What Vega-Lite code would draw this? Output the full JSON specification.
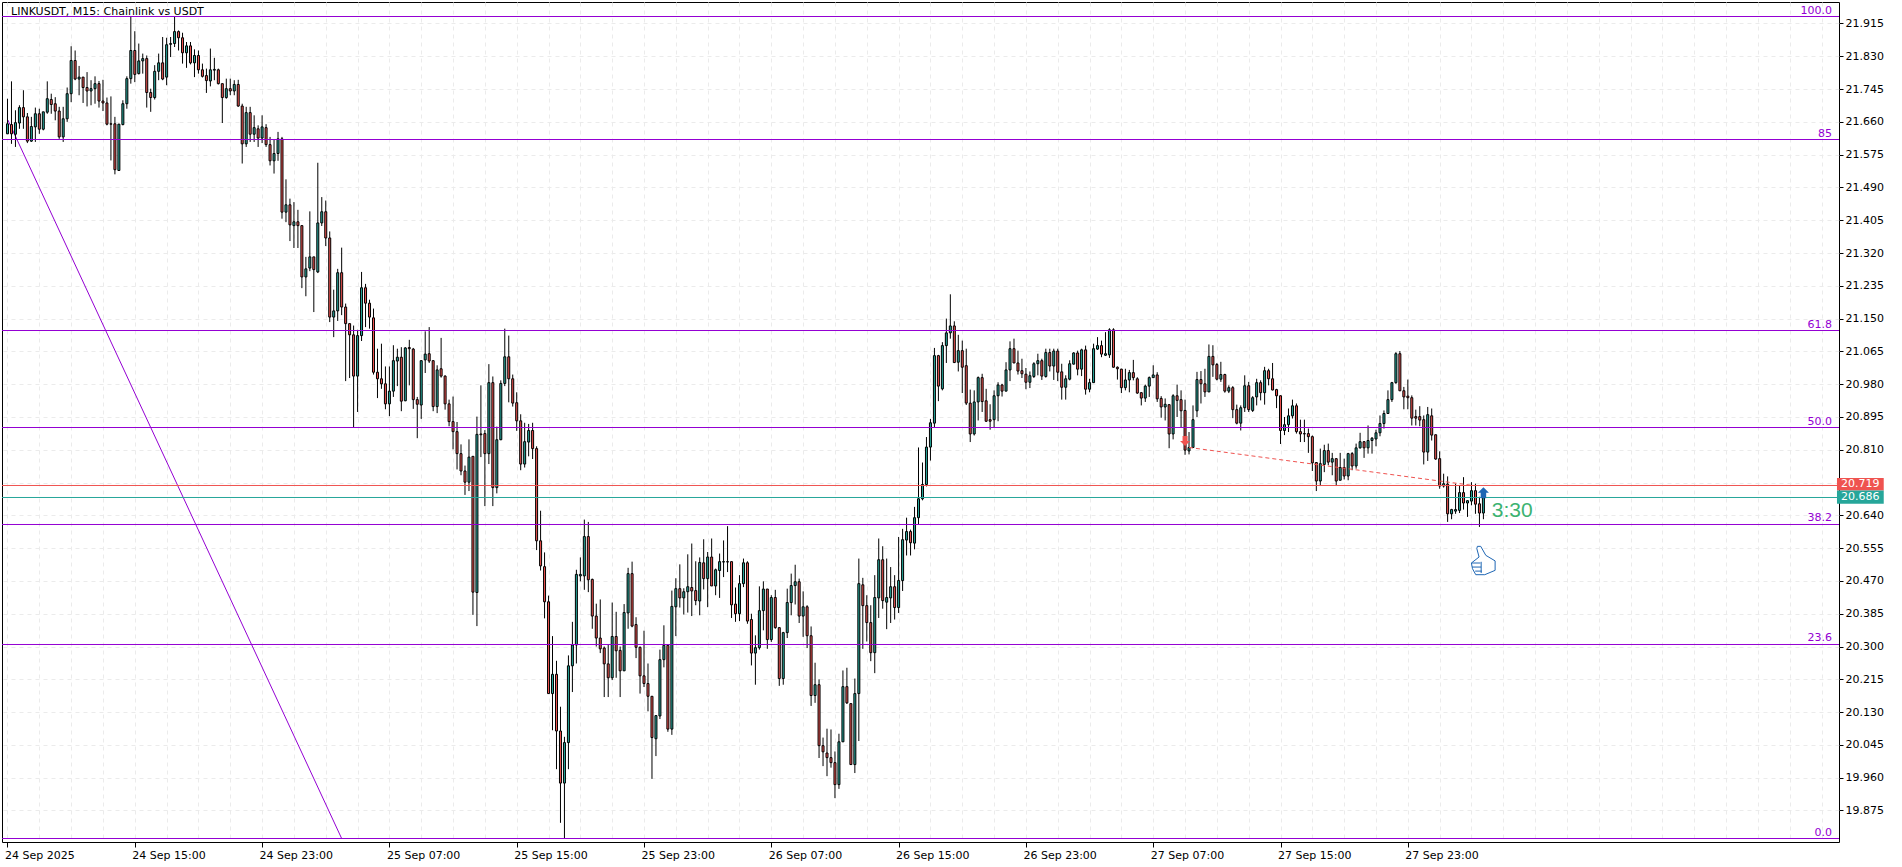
{"$schema":"https://vega.github.io/schema/vega-lite/v6.json","width":1837,"height":840,"autosize":{"type":"none"},"padding":{"left":2,"top":2,"right":63,"bottom":25},"background":"white","config":{"view":{"stroke":"#000","strokeWidth":1},"font":"DejaVu Sans","axis":{"labelOverlap":false}},
"datasets":{
"candles":[
{"k":0,"o":21.629,"h":21.72,"l":21.629,"c":21.655},{"k":1,"o":21.653,"h":21.765,"l":21.603,"c":21.629},{"k":2,"o":21.628,"h":21.69,"l":21.595,"c":21.658},{"k":3,"o":21.657,"h":21.703,"l":21.642,"c":21.697},{"k":4,"o":21.697,"h":21.742,"l":21.642,"c":21.673},{"k":5,"o":21.673,"h":21.683,"l":21.605,"c":21.61},{"k":6,"o":21.61,"h":21.673,"l":21.608,"c":21.648},{"k":7,"o":21.647,"h":21.697,"l":21.608,"c":21.681},{"k":8,"o":21.681,"h":21.694,"l":21.629,"c":21.641},{"k":9,"o":21.641,"h":21.686,"l":21.638,"c":21.686},
{"k":10,"o":21.685,"h":21.765,"l":21.681,"c":21.72},{"k":11,"o":21.718,"h":21.733,"l":21.681,"c":21.705},{"k":12,"o":21.707,"h":21.724,"l":21.664,"c":21.688},{"k":13,"o":21.688,"h":21.699,"l":21.616,"c":21.621},{"k":14,"o":21.621,"h":21.699,"l":21.608,"c":21.668},{"k":15,"o":21.668,"h":21.749,"l":21.66,"c":21.733},{"k":16,"o":21.733,"h":21.856,"l":21.711,"c":21.819},{"k":17,"o":21.819,"h":21.845,"l":21.768,"c":21.771},{"k":18,"o":21.771,"h":21.805,"l":21.729,"c":21.776},{"k":19,"o":21.776,"h":21.776,"l":21.709,"c":21.749},
{"k":20,"o":21.749,"h":21.789,"l":21.7,"c":21.74},{"k":21,"o":21.74,"h":21.768,"l":21.703,"c":21.746},{"k":22,"o":21.746,"h":21.778,"l":21.707,"c":21.759},{"k":23,"o":21.759,"h":21.766,"l":21.697,"c":21.714},{"k":24,"o":21.714,"h":21.769,"l":21.688,"c":21.709},{"k":25,"o":21.709,"h":21.723,"l":21.651,"c":21.654},{"k":26,"o":21.655,"h":21.726,"l":21.56,"c":21.654},{"k":27,"o":21.655,"h":21.673,"l":21.524,"c":21.536},{"k":28,"o":21.534,"h":21.655,"l":21.533,"c":21.654},{"k":29,"o":21.653,"h":21.716,"l":21.651,"c":21.707},
{"k":30,"o":21.707,"h":21.778,"l":21.694,"c":21.772},{"k":31,"o":21.772,"h":21.932,"l":21.759,"c":21.845},{"k":32,"o":21.845,"h":21.895,"l":21.763,"c":21.783},{"k":33,"o":21.785,"h":21.863,"l":21.783,"c":21.818},{"k":34,"o":21.818,"h":21.837,"l":21.785,"c":21.824},{"k":35,"o":21.824,"h":21.832,"l":21.697,"c":21.736},{"k":36,"o":21.736,"h":21.746,"l":21.686,"c":21.723},{"k":37,"o":21.723,"h":21.807,"l":21.718,"c":21.791},{"k":38,"o":21.791,"h":21.837,"l":21.768,"c":21.813},{"k":39,"o":21.813,"h":21.88,"l":21.768,"c":21.771},
{"k":40,"o":21.776,"h":21.878,"l":21.755,"c":21.86},{"k":41,"o":21.861,"h":21.88,"l":21.828,"c":21.863},{"k":42,"o":21.863,"h":21.932,"l":21.854,"c":21.894},{"k":43,"o":21.894,"h":21.897,"l":21.845,"c":21.878},{"k":44,"o":21.878,"h":21.891,"l":21.811,"c":21.839},{"k":45,"o":21.839,"h":21.867,"l":21.8,"c":21.857},{"k":46,"o":21.857,"h":21.867,"l":21.809,"c":21.813},{"k":47,"o":21.813,"h":21.848,"l":21.776,"c":21.832},{"k":48,"o":21.832,"h":21.845,"l":21.785,"c":21.795},{"k":49,"o":21.795,"h":21.811,"l":21.775,"c":21.778},
{"k":50,"o":21.78,"h":21.798,"l":21.735,"c":21.767},{"k":51,"o":21.766,"h":21.85,"l":21.752,"c":21.795},{"k":52,"o":21.794,"h":21.826,"l":21.768,"c":21.796},{"k":53,"o":21.795,"h":21.798,"l":21.757,"c":21.759},{"k":54,"o":21.759,"h":21.759,"l":21.657,"c":21.723},{"k":55,"o":21.723,"h":21.772,"l":21.72,"c":21.746},{"k":56,"o":21.746,"h":21.772,"l":21.729,"c":21.74},{"k":57,"o":21.74,"h":21.768,"l":21.729,"c":21.757},{"k":58,"o":21.757,"h":21.769,"l":21.699,"c":21.701},{"k":59,"o":21.701,"h":21.707,"l":21.552,"c":21.603},
{"k":60,"o":21.603,"h":21.699,"l":21.595,"c":21.684},{"k":61,"o":21.684,"h":21.699,"l":21.608,"c":21.628},{"k":62,"o":21.628,"h":21.677,"l":21.608,"c":21.645},{"k":63,"o":21.642,"h":21.651,"l":21.595,"c":21.618},{"k":64,"o":21.618,"h":21.677,"l":21.605,"c":21.647},{"k":65,"o":21.645,"h":21.654,"l":21.595,"c":21.601},{"k":66,"o":21.601,"h":21.621,"l":21.547,"c":21.559},{"k":67,"o":21.559,"h":21.614,"l":21.526,"c":21.578},{"k":68,"o":21.578,"h":21.634,"l":21.559,"c":21.616},{"k":69,"o":21.616,"h":21.621,"l":21.409,"c":21.426},
{"k":70,"o":21.426,"h":21.511,"l":21.4,"c":21.445},{"k":71,"o":21.445,"h":21.461,"l":21.351,"c":21.393},{"k":72,"o":21.391,"h":21.452,"l":21.333,"c":21.401},{"k":73,"o":21.401,"h":21.432,"l":21.333,"c":21.391},{"k":74,"o":21.391,"h":21.392,"l":21.229,"c":21.258},{"k":75,"o":21.258,"h":21.31,"l":21.208,"c":21.279},{"k":76,"o":21.281,"h":21.428,"l":21.273,"c":21.31},{"k":77,"o":21.31,"h":21.31,"l":21.167,"c":21.277},{"k":78,"o":21.271,"h":21.554,"l":21.268,"c":21.398},{"k":79,"o":21.398,"h":21.465,"l":21.39,"c":21.427},
{"k":80,"o":21.427,"h":21.456,"l":21.338,"c":21.359},{"k":81,"o":21.359,"h":21.376,"l":21.141,"c":21.154},{"k":82,"o":21.154,"h":21.225,"l":21.102,"c":21.17},{"k":83,"o":21.17,"h":21.279,"l":21.144,"c":21.269},{"k":84,"o":21.269,"h":21.334,"l":21.159,"c":21.18},{"k":85,"o":21.18,"h":21.189,"l":20.988,"c":21.137},{"k":86,"o":21.137,"h":21.137,"l":20.996,"c":21.108},{"k":87,"o":21.108,"h":21.132,"l":20.867,"c":21.001},{"k":88,"o":21.001,"h":21.121,"l":20.908,"c":21.106},{"k":89,"o":21.106,"h":21.271,"l":21.092,"c":21.23},
{"k":90,"o":21.23,"h":21.24,"l":21.128,"c":21.19},{"k":91,"o":21.19,"h":21.199,"l":21.124,"c":21.154},{"k":92,"o":21.152,"h":21.176,"l":21.005,"c":21.011},{"k":93,"o":21.011,"h":21.072,"l":20.944,"c":20.994},{"k":94,"o":20.994,"h":21.085,"l":20.968,"c":20.981},{"k":95,"o":20.981,"h":21.026,"l":20.915,"c":20.929},{"k":96,"o":20.929,"h":21.026,"l":20.897,"c":20.962},{"k":97,"o":20.962,"h":21.081,"l":20.947,"c":21.041},{"k":98,"o":21.04,"h":21.072,"l":20.975,"c":21.05},{"k":99,"o":21.05,"h":21.076,"l":20.91,"c":20.936},
{"k":100,"o":20.937,"h":21.076,"l":20.936,"c":21.074},{"k":101,"o":21.075,"h":21.095,"l":20.977,"c":21.072},{"k":102,"o":21.071,"h":21.074,"l":20.916,"c":20.94},{"k":103,"o":20.94,"h":20.947,"l":20.84,"c":20.928},{"k":104,"o":20.926,"h":21.042,"l":20.89,"c":21.041},{"k":105,"o":21.043,"h":21.117,"l":21.009,"c":21.058},{"k":106,"o":21.059,"h":21.128,"l":21.035,"c":21.04},{"k":107,"o":21.041,"h":21.042,"l":20.91,"c":20.922},{"k":108,"o":20.922,"h":21.029,"l":20.905,"c":21.017},{"k":109,"o":21.02,"h":21.1,"l":20.997,"c":21.001},
{"k":110,"o":21.001,"h":21.003,"l":20.914,"c":20.929},{"k":111,"o":20.929,"h":20.94,"l":20.871,"c":20.883},{"k":112,"o":20.883,"h":20.948,"l":20.811,"c":20.857},{"k":113,"o":20.857,"h":20.882,"l":20.759,"c":20.8},{"k":114,"o":20.8,"h":20.824,"l":20.744,"c":20.755},{"k":115,"o":20.755,"h":20.769,"l":20.693,"c":20.726},{"k":116,"o":20.726,"h":20.837,"l":20.703,"c":20.791},{"k":117,"o":20.793,"h":20.793,"l":20.382,"c":20.441},{"k":118,"o":20.44,"h":20.896,"l":20.353,"c":20.85},{"k":119,"o":20.851,"h":20.977,"l":20.791,"c":20.849},
{"k":120,"o":20.852,"h":20.861,"l":20.664,"c":20.8},{"k":121,"o":20.8,"h":21.032,"l":20.773,"c":20.984},{"k":122,"o":20.984,"h":21.0,"l":20.664,"c":20.712},{"k":123,"o":20.712,"h":20.87,"l":20.697,"c":20.836},{"k":124,"o":20.836,"h":20.99,"l":20.835,"c":20.982},{"k":125,"o":20.982,"h":21.124,"l":20.975,"c":21.051},{"k":126,"o":21.051,"h":21.106,"l":20.933,"c":20.994},{"k":127,"o":20.994,"h":21.005,"l":20.922,"c":20.931},{"k":128,"o":20.932,"h":20.959,"l":20.859,"c":20.885},{"k":129,"o":20.885,"h":20.902,"l":20.757,"c":20.773},
{"k":130,"o":20.773,"h":20.88,"l":20.764,"c":20.831},{"k":131,"o":20.83,"h":20.877,"l":20.793,"c":20.86},{"k":132,"o":20.86,"h":20.88,"l":20.786,"c":20.813},{"k":133,"o":20.813,"h":20.819,"l":20.55,"c":20.574},{"k":134,"o":20.574,"h":20.652,"l":20.497,"c":20.509},{"k":135,"o":20.507,"h":20.544,"l":20.373,"c":20.416},{"k":136,"o":20.416,"h":20.432,"l":20.178,"c":20.178},{"k":137,"o":20.178,"h":20.327,"l":20.083,"c":20.228},{"k":138,"o":20.228,"h":20.263,"l":19.982,"c":20.081},{"k":139,"o":20.081,"h":20.144,"l":19.843,"c":19.946},
{"k":140,"o":19.946,"h":20.066,"l":19.803,"c":20.051},{"k":141,"o":20.051,"h":20.277,"l":19.982,"c":20.25},{"k":142,"o":20.25,"h":20.364,"l":20.182,"c":20.304},{"k":143,"o":20.304,"h":20.499,"l":20.256,"c":20.487},{"k":144,"o":20.483,"h":20.531,"l":20.469,"c":20.487},{"k":145,"o":20.483,"h":20.629,"l":20.447,"c":20.585},{"k":146,"o":20.585,"h":20.623,"l":20.441,"c":20.473},{"k":147,"o":20.474,"h":20.476,"l":20.346,"c":20.379},{"k":148,"o":20.379,"h":20.411,"l":20.3,"c":20.322},{"k":149,"o":20.322,"h":20.422,"l":20.283,"c":20.294},
{"k":150,"o":20.296,"h":20.3,"l":20.169,"c":20.255},{"k":151,"o":20.255,"h":20.305,"l":20.169,"c":20.219},{"k":152,"o":20.219,"h":20.414,"l":20.213,"c":20.326},{"k":153,"o":20.326,"h":20.39,"l":20.219,"c":20.289},{"k":154,"o":20.29,"h":20.3,"l":20.169,"c":20.237},{"k":155,"o":20.237,"h":20.41,"l":20.237,"c":20.388},{"k":156,"o":20.387,"h":20.504,"l":20.346,"c":20.489},{"k":157,"o":20.489,"h":20.52,"l":20.35,"c":20.353},{"k":158,"o":20.357,"h":20.376,"l":20.27,"c":20.298},{"k":159,"o":20.298,"h":20.3,"l":20.178,"c":20.224},
{"k":160,"o":20.224,"h":20.341,"l":20.195,"c":20.204},{"k":161,"o":20.204,"h":20.256,"l":20.132,"c":20.171},{"k":162,"o":20.171,"h":20.171,"l":19.957,"c":20.064},{"k":163,"o":20.061,"h":20.121,"l":20.016,"c":20.121},{"k":164,"o":20.12,"h":20.292,"l":20.112,"c":20.266},{"k":165,"o":20.266,"h":20.355,"l":20.246,"c":20.303},{"k":166,"o":20.303,"h":20.303,"l":20.079,"c":20.086},{"k":167,"o":20.086,"h":20.445,"l":20.071,"c":20.404},{"k":168,"o":20.403,"h":20.477,"l":20.327,"c":20.45},{"k":169,"o":20.45,"h":20.513,"l":20.401,"c":20.426},
{"k":170,"o":20.426,"h":20.451,"l":20.383,"c":20.442},{"k":171,"o":20.442,"h":20.539,"l":20.388,"c":20.455},{"k":172,"o":20.453,"h":20.567,"l":20.379,"c":20.444},{"k":173,"o":20.445,"h":20.521,"l":20.407,"c":20.419},{"k":174,"o":20.418,"h":20.531,"l":20.381,"c":20.518},{"k":175,"o":20.517,"h":20.578,"l":20.448,"c":20.476},{"k":176,"o":20.476,"h":20.545,"l":20.402,"c":20.532},{"k":177,"o":20.532,"h":20.58,"l":20.457,"c":20.457},{"k":178,"o":20.457,"h":20.502,"l":20.433,"c":20.499},{"k":179,"o":20.497,"h":20.541,"l":20.426,"c":20.52},
{"k":180,"o":20.519,"h":20.575,"l":20.48,"c":20.52},{"k":181,"o":20.52,"h":20.612,"l":20.493,"c":20.519},{"k":182,"o":20.52,"h":20.52,"l":20.374,"c":20.408},{"k":183,"o":20.41,"h":20.453,"l":20.364,"c":20.385},{"k":184,"o":20.385,"h":20.485,"l":20.366,"c":20.463},{"k":185,"o":20.463,"h":20.528,"l":20.454,"c":20.517},{"k":186,"o":20.517,"h":20.521,"l":20.359,"c":20.366},{"k":187,"o":20.37,"h":20.385,"l":20.251,"c":20.283},{"k":188,"o":20.283,"h":20.329,"l":20.201,"c":20.297},{"k":189,"o":20.297,"h":20.456,"l":20.292,"c":20.393},
{"k":190,"o":20.393,"h":20.469,"l":20.342,"c":20.449},{"k":191,"o":20.449,"h":20.449,"l":20.294,"c":20.318},{"k":192,"o":20.318,"h":20.433,"l":20.312,"c":20.427},{"k":193,"o":20.427,"h":20.447,"l":20.346,"c":20.349},{"k":194,"o":20.349,"h":20.349,"l":20.198,"c":20.217},{"k":195,"o":20.217,"h":20.338,"l":20.201,"c":20.336},{"k":196,"o":20.336,"h":20.45,"l":20.322,"c":20.414},{"k":197,"o":20.414,"h":20.489,"l":20.381,"c":20.458},{"k":198,"o":20.458,"h":20.512,"l":20.409,"c":20.468},{"k":199,"o":20.468,"h":20.476,"l":20.361,"c":20.379},
{"k":200,"o":20.379,"h":20.443,"l":20.325,"c":20.403},{"k":201,"o":20.403,"h":20.407,"l":20.296,"c":20.328},{"k":202,"o":20.328,"h":20.352,"l":20.146,"c":20.173},{"k":203,"o":20.173,"h":20.258,"l":20.154,"c":20.201},{"k":204,"o":20.201,"h":20.215,"l":20.011,"c":20.043},{"k":205,"o":20.043,"h":20.064,"l":19.99,"c":20.027},{"k":206,"o":20.024,"h":20.087,"l":19.964,"c":20.012},{"k":207,"o":20.012,"h":20.085,"l":19.986,"c":19.999},{"k":208,"o":19.999,"h":20.028,"l":19.907,"c":19.942},{"k":209,"o":19.942,"h":20.074,"l":19.931,"c":20.053},
{"k":210,"o":20.053,"h":20.238,"l":20.053,"c":20.196},{"k":211,"o":20.196,"h":20.245,"l":20.151,"c":20.154},{"k":212,"o":20.152,"h":20.152,"l":19.994,"c":19.994},{"k":213,"o":19.994,"h":20.217,"l":19.972,"c":20.178},{"k":214,"o":20.178,"h":20.528,"l":20.055,"c":20.463},{"k":215,"o":20.46,"h":20.478,"l":20.294,"c":20.406},{"k":216,"o":20.406,"h":20.433,"l":20.313,"c":20.362},{"k":217,"o":20.362,"h":20.407,"l":20.262,"c":20.284},{"k":218,"o":20.284,"h":20.485,"l":20.231,"c":20.427},{"k":219,"o":20.426,"h":20.58,"l":20.374,"c":20.525},
{"k":220,"o":20.525,"h":20.56,"l":20.398,"c":20.419},{"k":221,"o":20.415,"h":20.528,"l":20.345,"c":20.427},{"k":222,"o":20.426,"h":20.506,"l":20.361,"c":20.455},{"k":223,"o":20.455,"h":20.485,"l":20.37,"c":20.401},{"k":224,"o":20.401,"h":20.584,"l":20.387,"c":20.471},{"k":225,"o":20.471,"h":20.605,"l":20.444,"c":20.577},{"k":226,"o":20.576,"h":20.634,"l":20.536,"c":20.598},{"k":227,"o":20.598,"h":20.603,"l":20.536,"c":20.569},{"k":228,"o":20.568,"h":20.662,"l":20.552,"c":20.634},{"k":229,"o":20.634,"h":20.816,"l":20.617,"c":20.683},
{"k":230,"o":20.683,"h":20.777,"l":20.679,"c":20.72},{"k":231,"o":20.72,"h":20.843,"l":20.715,"c":20.817},{"k":232,"o":20.817,"h":20.89,"l":20.782,"c":20.88},{"k":233,"o":20.879,"h":21.074,"l":20.868,"c":21.054},{"k":234,"o":21.054,"h":21.056,"l":20.936,"c":20.975},{"k":235,"o":20.968,"h":21.089,"l":20.964,"c":21.08},{"k":236,"o":21.08,"h":21.15,"l":21.035,"c":21.113},{"k":237,"o":21.113,"h":21.213,"l":21.098,"c":21.131},{"k":238,"o":21.131,"h":21.143,"l":21.035,"c":21.036},{"k":239,"o":21.037,"h":21.108,"l":21.013,"c":21.067},
{"k":240,"o":21.067,"h":21.093,"l":20.957,"c":21.024},{"k":241,"o":21.028,"h":21.072,"l":20.926,"c":20.931},{"k":242,"o":20.931,"h":20.966,"l":20.83,"c":20.851},{"k":243,"o":20.851,"h":20.964,"l":20.847,"c":20.934},{"k":244,"o":20.934,"h":21.0,"l":20.886,"c":20.997},{"k":245,"o":20.997,"h":21.007,"l":20.908,"c":20.935},{"k":246,"o":20.937,"h":20.968,"l":20.882,"c":20.884},{"k":247,"o":20.888,"h":20.928,"l":20.862,"c":20.884},{"k":248,"o":20.888,"h":20.964,"l":20.869,"c":20.95},{"k":249,"o":20.95,"h":20.985,"l":20.884,"c":20.978},
{"k":250,"o":20.978,"h":20.981,"l":20.948,"c":20.962},{"k":251,"o":20.962,"h":21.037,"l":20.962,"c":21.017},{"k":252,"o":21.017,"h":21.091,"l":20.988,"c":21.072},{"k":253,"o":21.072,"h":21.098,"l":21.035,"c":21.035},{"k":254,"o":21.035,"h":21.067,"l":21.005,"c":21.014},{"k":255,"o":21.015,"h":21.046,"l":20.996,"c":21.007},{"k":256,"o":21.006,"h":21.022,"l":20.967,"c":20.985},{"k":257,"o":20.985,"h":21.013,"l":20.97,"c":21.002},{"k":258,"o":21.0,"h":21.037,"l":20.996,"c":21.033},{"k":259,"o":21.033,"h":21.059,"l":21.003,"c":21.041},
{"k":260,"o":21.041,"h":21.046,"l":20.991,"c":21.001},{"k":261,"o":21.0,"h":21.072,"l":20.997,"c":21.062},{"k":262,"o":21.062,"h":21.072,"l":21.013,"c":21.027},{"k":263,"o":21.027,"h":21.072,"l":20.991,"c":21.066},{"k":264,"o":21.066,"h":21.072,"l":20.988,"c":21.011},{"k":265,"o":21.012,"h":21.033,"l":20.94,"c":20.972},{"k":266,"o":20.972,"h":21.003,"l":20.94,"c":20.994},{"k":267,"o":20.993,"h":21.042,"l":20.99,"c":21.033},{"k":268,"o":21.032,"h":21.063,"l":21.031,"c":21.061},{"k":269,"o":21.061,"h":21.067,"l":21.003,"c":21.019},
{"k":270,"o":21.019,"h":21.072,"l":21.001,"c":21.069},{"k":271,"o":21.069,"h":21.08,"l":20.953,"c":20.967},{"k":272,"o":20.967,"h":20.994,"l":20.959,"c":20.984},{"k":273,"o":20.984,"h":21.085,"l":20.984,"c":21.072},{"k":274,"o":21.071,"h":21.102,"l":21.069,"c":21.08},{"k":275,"o":21.08,"h":21.093,"l":21.05,"c":21.058},{"k":276,"o":21.055,"h":21.115,"l":21.053,"c":21.059},{"k":277,"o":21.056,"h":21.125,"l":21.048,"c":21.121},{"k":278,"o":21.121,"h":21.125,"l":21.023,"c":21.024},{"k":279,"o":21.024,"h":21.026,"l":20.992,"c":21.02},
{"k":280,"o":21.019,"h":21.02,"l":20.957,"c":20.971},{"k":281,"o":20.971,"h":21.02,"l":20.964,"c":20.991},{"k":282,"o":20.991,"h":21.017,"l":20.959,"c":21.01},{"k":283,"o":21.01,"h":21.043,"l":20.99,"c":20.997},{"k":284,"o":20.994,"h":20.998,"l":20.955,"c":20.957},{"k":285,"o":20.958,"h":20.959,"l":20.925,"c":20.944},{"k":286,"o":20.944,"h":20.979,"l":20.934,"c":20.975},{"k":287,"o":20.975,"h":21.0,"l":20.947,"c":20.997},{"k":288,"o":20.997,"h":21.029,"l":20.997,"c":21.004},{"k":289,"o":21.004,"h":21.011,"l":20.934,"c":20.942},
{"k":290,"o":20.943,"h":20.949,"l":20.893,"c":20.921},{"k":291,"o":20.921,"h":20.943,"l":20.886,"c":20.928},{"k":292,"o":20.927,"h":20.928,"l":20.814,"c":20.851},{"k":293,"o":20.851,"h":20.954,"l":20.837,"c":20.95},{"k":294,"o":20.95,"h":20.979,"l":20.895,"c":20.938},{"k":295,"o":20.94,"h":20.964,"l":20.869,"c":20.911},{"k":296,"o":20.912,"h":20.94,"l":20.797,"c":20.809},{"k":297,"o":20.807,"h":20.856,"l":20.798,"c":20.816},{"k":298,"o":20.816,"h":20.925,"l":20.815,"c":20.888},{"k":299,"o":20.911,"h":21.012,"l":20.895,"c":20.992},
{"k":300,"o":20.992,"h":21.014,"l":20.93,"c":20.981},{"k":301,"o":20.981,"h":21.02,"l":20.947,"c":20.96},{"k":302,"o":20.96,"h":21.083,"l":20.96,"c":21.052},{"k":303,"o":21.052,"h":21.081,"l":20.999,"c":21.03},{"k":304,"o":21.031,"h":21.035,"l":20.99,"c":20.993},{"k":305,"o":20.993,"h":21.038,"l":20.986,"c":21.005},{"k":306,"o":21.005,"h":21.007,"l":20.958,"c":20.962},{"k":307,"o":20.962,"h":20.977,"l":20.957,"c":20.971},{"k":308,"o":20.971,"h":20.975,"l":20.892,"c":20.914},{"k":309,"o":20.914,"h":20.927,"l":20.876,"c":20.879},
{"k":310,"o":20.879,"h":20.925,"l":20.86,"c":20.919},{"k":311,"o":20.919,"h":21.003,"l":20.908,"c":20.976},{"k":312,"o":20.976,"h":20.986,"l":20.908,"c":20.914},{"k":313,"o":20.912,"h":20.949,"l":20.908,"c":20.945},{"k":314,"o":20.947,"h":20.994,"l":20.925,"c":20.984},{"k":315,"o":20.984,"h":20.99,"l":20.938,"c":20.958},{"k":316,"o":20.958,"h":21.025,"l":20.927,"c":21.015},{"k":317,"o":21.015,"h":21.02,"l":20.977,"c":20.994},{"k":318,"o":20.994,"h":21.035,"l":20.964,"c":20.965},{"k":319,"o":20.966,"h":20.968,"l":20.918,"c":20.95},
{"k":320,"o":20.95,"h":20.951,"l":20.825,"c":20.86},{"k":321,"o":20.86,"h":20.895,"l":20.848,"c":20.875},{"k":322,"o":20.875,"h":20.917,"l":20.856,"c":20.898},{"k":323,"o":20.898,"h":20.94,"l":20.891,"c":20.924},{"k":324,"o":20.924,"h":20.93,"l":20.852,"c":20.857},{"k":325,"o":20.857,"h":20.888,"l":20.83,"c":20.851},{"k":326,"o":20.852,"h":20.888,"l":20.83,"c":20.851},{"k":327,"o":20.852,"h":20.865,"l":20.802,"c":20.844},{"k":328,"o":20.844,"h":20.847,"l":20.755,"c":20.776},{"k":329,"o":20.777,"h":20.777,"l":20.703,"c":20.729},
{"k":330,"o":20.729,"h":20.813,"l":20.716,"c":20.774},{"k":331,"o":20.772,"h":20.823,"l":20.752,"c":20.808},{"k":332,"o":20.808,"h":20.826,"l":20.77,"c":20.778},{"k":333,"o":20.778,"h":20.802,"l":20.744,"c":20.787},{"k":334,"o":20.787,"h":20.787,"l":20.716,"c":20.729},{"k":335,"o":20.731,"h":20.802,"l":20.731,"c":20.764},{"k":336,"o":20.764,"h":20.787,"l":20.733,"c":20.742},{"k":337,"o":20.742,"h":20.802,"l":20.731,"c":20.8},{"k":338,"o":20.8,"h":20.804,"l":20.757,"c":20.768},{"k":339,"o":20.768,"h":20.826,"l":20.761,"c":20.815},
{"k":340,"o":20.815,"h":20.854,"l":20.813,"c":20.831},{"k":341,"o":20.831,"h":20.832,"l":20.789,"c":20.815},{"k":342,"o":20.815,"h":20.873,"l":20.8,"c":20.834},{"k":343,"o":20.834,"h":20.843,"l":20.8,"c":20.84},{"k":344,"o":20.838,"h":20.862,"l":20.819,"c":20.854},{"k":345,"o":20.854,"h":20.899,"l":20.845,"c":20.878},{"k":346,"o":20.878,"h":20.912,"l":20.865,"c":20.904},{"k":347,"o":20.904,"h":20.964,"l":20.904,"c":20.94},{"k":348,"o":20.94,"h":20.986,"l":20.934,"c":20.984},{"k":349,"o":20.984,"h":21.063,"l":20.981,"c":21.059},
{"k":350,"o":21.059,"h":21.066,"l":20.962,"c":20.963},{"k":351,"o":20.963,"h":20.973,"l":20.915,"c":20.947},{"k":352,"o":20.949,"h":20.992,"l":20.915,"c":20.945},{"k":353,"o":20.945,"h":20.951,"l":20.873,"c":20.892},{"k":354,"o":20.896,"h":20.914,"l":20.873,"c":20.892},{"k":355,"o":20.896,"h":20.923,"l":20.871,"c":20.887},{"k":356,"o":20.888,"h":20.899,"l":20.772,"c":20.804},{"k":357,"o":20.804,"h":20.921,"l":20.781,"c":20.901},{"k":358,"o":20.898,"h":20.917,"l":20.834,"c":20.848},{"k":359,"o":20.849,"h":20.849,"l":20.784,"c":20.786},
{"k":360,"o":20.787,"h":20.806,"l":20.709,"c":20.716},{"k":361,"o":20.716,"h":20.748,"l":20.712,"c":20.722},{"k":362,"o":20.721,"h":20.741,"l":20.623,"c":20.644},{"k":363,"o":20.644,"h":20.657,"l":20.63,"c":20.655},{"k":364,"o":20.651,"h":20.722,"l":20.644,"c":20.655},{"k":365,"o":20.653,"h":20.718,"l":20.646,"c":20.699},{"k":366,"o":20.699,"h":20.739,"l":20.655,"c":20.672},{"k":367,"o":20.672,"h":20.679,"l":20.636,"c":20.678},{"k":368,"o":20.677,"h":20.726,"l":20.666,"c":20.704},{"k":369,"o":20.704,"h":20.722,"l":20.644,"c":20.669},
{"k":370,"o":20.67,"h":20.688,"l":20.61,"c":20.646},{"k":371,"o":20.646,"h":20.686,"l":20.63,"c":20.686}
],
"levels":[{"p":21.93311,"t":"100.0","col":"#9400d3"},{"p":21.61428,"t":"85","col":"#9400d3"},{"p":21.11918,"t":"61.8","col":"#9400d3"},{"p":20.86774,"t":"50.0","col":"#9400d3"},{"p":20.61631,"t":"38.2","col":"#9400d3"},{"p":20.30525,"t":"23.6","col":"#9400d3"},{"p":19.80237,"t":"0.0","col":"#9400d3"}],
"fibline":[{"k":0.1,"p":21.6648},{"k":84,"p":19.80237}],
"signal":[{"k":297,"p":20.816},{"k":368,"p":20.718}],
"bidask":[{"p":20.7174,"t":"20.719","col":"#ef5350","k0":459.875,"k1":471.625,"top":20.7368,"bot":20.7044,"tp":20.72},{"p":20.6863,"t":"20.686","col":"#26a69a","k0":459.875,"k1":471.625,"top":20.7044,"bot":20.6702,"tp":20.687}],
"labels":[{"k":0.9,"p":21.945,"t":"LINKUSDT, M15:  Chainlink vs USDT"}],
"timer":[{"k":373.1,"p":20.651,"t":"3:30"}],
"up":[{"k":371,"p":20.6985}],
"down":[{"k":296,"p":20.833}],
"thumb":[{"k":371,"p":20.5235}]
},
"layer":[
{"data":{"name":"levels"},"mark":{"type":"rule","strokeWidth":1},"encoding":{
"x":{"field":"k","type":"quantitative","title":null,"scale":{"domain":[-0.125,459.125],"nice":false,"zero":false},"axis":{"tickCount":100,"values":[0,8,16,24,32,40,48,56,64,72,80,88,96,104,112,120,128,136,144,152,160,168,176,184,192,200,208,216,224,232,240,248,256,264,272,280,288,296,304,312,320,328,336,344,352,360,368,376,384,392,400,408,416,424,432,440,448,456],"grid":true,"gridColor":"#ebebeb","gridDash":[4,4],"gridWidth":1,"domain":false,"tickColor":"#000","tickSize":5,"tickOpacity":{"condition":{"test":"datum.value%32==0 && datum.value<=352","value":1},"value":0},"labelAlign":"left","labelOffset":-3,"labelFont":"DejaVu Sans","labelFontSize":11,"labelColor":"#000","labelPadding":2,"labelFlush":false,"labelOverlap":false,"labelExpr":"datum.value%32==0 && datum.value<=352 ? ['24 Sep 2025','24 Sep 15:00','24 Sep 23:00','25 Sep 07:00','25 Sep 15:00','25 Sep 23:00','26 Sep 07:00','26 Sep 15:00','26 Sep 23:00','27 Sep 07:00','27 Sep 15:00','27 Sep 23:00'][datum.value/32] : ''"}},
"y":{"field":"p","type":"quantitative","title":null,"scale":{"domain":[19.7933,21.9707],"nice":false,"zero":false},"axis":{"tickCount":100,"orient":"right","values":[21.915,21.83,21.745,21.66,21.575,21.49,21.405,21.32,21.235,21.15,21.065,20.98,20.895,20.81,20.725,20.64,20.555,20.47,20.385,20.3,20.215,20.13,20.045,19.96,19.875],"grid":true,"gridColor":"#ebebeb","gridDash":[4,4],"gridWidth":1,"domain":false,"tickColor":"#000","tickSize":4,"tickOpacity":{"condition":{"test":"datum.value==20.725","value":0},"value":1},"labelFont":"DejaVu Sans","labelFontSize":11,"labelColor":"#000","labelPadding":2,"labelOverlap":false,"labelExpr":"datum.value==20.725 ? '' : format(datum.value,'.3f')"}},
"color":{"field":"col","type":"nominal","scale":null,"legend":null}}},
{"data":{"name":"fibline"},"mark":{"type":"line","color":"#9400d3","strokeWidth":1},"encoding":{"x":{"field":"k","type":"quantitative"},"y":{"field":"p","type":"quantitative"}}},
{"data":{"name":"candles"},"mark":{"type":"rule","color":"#000","strokeWidth":1},"encoding":{"x":{"field":"k","type":"quantitative"},"y":{"field":"l","type":"quantitative"},"y2":{"field":"h"}}},
{"data":{"name":"candles"},"mark":{"type":"bar","width":2,"stroke":"#000","strokeWidth":1},"encoding":{"x":{"field":"k","type":"quantitative"},"y":{"field":"o","type":"quantitative"},"y2":{"field":"c"},"fill":{"condition":{"test":"datum.c>=datum.o","value":"#26a69a"},"value":"#ef5350"}}},
{"data":{"name":"levels"},"mark":{"type":"rule","strokeWidth":1},"encoding":{"y":{"field":"p","type":"quantitative"},"color":{"field":"col","type":"nominal","scale":null,"legend":null}}},
{"data":{"name":"bidask"},"mark":{"type":"rule","strokeWidth":1},"encoding":{"y":{"field":"p","type":"quantitative"},"color":{"field":"col","type":"nominal","scale":null,"legend":null}}},
{"data":{"name":"signal"},"mark":{"type":"line","color":"#ef5350","strokeWidth":1,"strokeDash":[4,3]},"encoding":{"x":{"field":"k","type":"quantitative"},"y":{"field":"p","type":"quantitative"}}},
{"data":{"name":"bidask"},"mark":{"type":"rect"},"encoding":{"x":{"field":"k0","type":"quantitative"},"x2":{"field":"k1"},"y":{"field":"top","type":"quantitative"},"y2":{"field":"bot"},"color":{"field":"col","type":"nominal","scale":null,"legend":null}}},
{"data":{"name":"bidask"},"mark":{"type":"text","color":"#fff","font":"DejaVu Sans","fontSize":11,"baseline":"middle","align":"center"},"encoding":{"x":{"datum":465.75,"type":"quantitative"},"y":{"field":"tp","type":"quantitative"},"text":{"field":"t"}}},
{"data":{"name":"levels"},"mark":{"type":"text","color":"#9400d3","font":"DejaVu Sans","fontSize":11,"align":"right","baseline":"bottom","dy":-1},"encoding":{"x":{"datum":458.6,"type":"quantitative"},"y":{"field":"p","type":"quantitative"},"text":{"field":"t"}}},
{"data":{"name":"labels"},"mark":{"type":"text","color":"#000","font":"DejaVu Sans","fontSize":11,"align":"left","baseline":"middle"},"encoding":{"x":{"field":"k","type":"quantitative"},"y":{"field":"p","type":"quantitative"},"text":{"field":"t"}}},
{"data":{"name":"timer"},"mark":{"type":"text","color":"#3cb371","font":"Liberation Sans","fontSize":21,"align":"left","baseline":"middle"},"encoding":{"x":{"field":"k","type":"quantitative"},"y":{"field":"p","type":"quantitative"},"text":{"field":"t"}}},
{"data":{"name":"up"},"mark":{"type":"point","shape":"M0,-1 L1,0 L0.5,0 L0.5,1 L-0.5,1 L-0.5,0 L-1,0 Z","filled":true,"size":121,"color":"#1e66b4","opacity":1},"encoding":{"x":{"field":"k","type":"quantitative"},"y":{"field":"p","type":"quantitative"}}},
{"data":{"name":"down"},"mark":{"type":"point","shape":"M0,1 L1,0 L0.5,0 L0.5,-1 L-0.5,-1 L-0.5,0 L-1,0 Z","filled":true,"size":100,"color":"#ef5350","opacity":1},"encoding":{"x":{"field":"k","type":"quantitative"},"y":{"field":"p","type":"quantitative"}}},
{"data":{"name":"thumb"},"mark":{"type":"point","shape":"M-0.4,-0.93 L-0.18,-0.93 L0.16,-0.33 L0.78,0.04 L0.78,0.67 L0.09,0.96 L-0.51,0.96 L-0.73,0.56 L-0.8,0.18 L-0.29,-0.22 L-0.44,-0.78 Z M-0.8,0.18 L-0.2,0.18 M-0.75,0.45 L-0.15,0.45 M-0.55,0.72 L-0.1,0.72 M-0.15,0.1 L-0.15,0.85","filled":false,"size":900,"stroke":"#1e66b4","fill":"#fff","fillOpacity":1,"strokeWidth":1,"opacity":1},"encoding":{"x":{"field":"k","type":"quantitative"},"y":{"field":"p","type":"quantitative"}}}
]}
